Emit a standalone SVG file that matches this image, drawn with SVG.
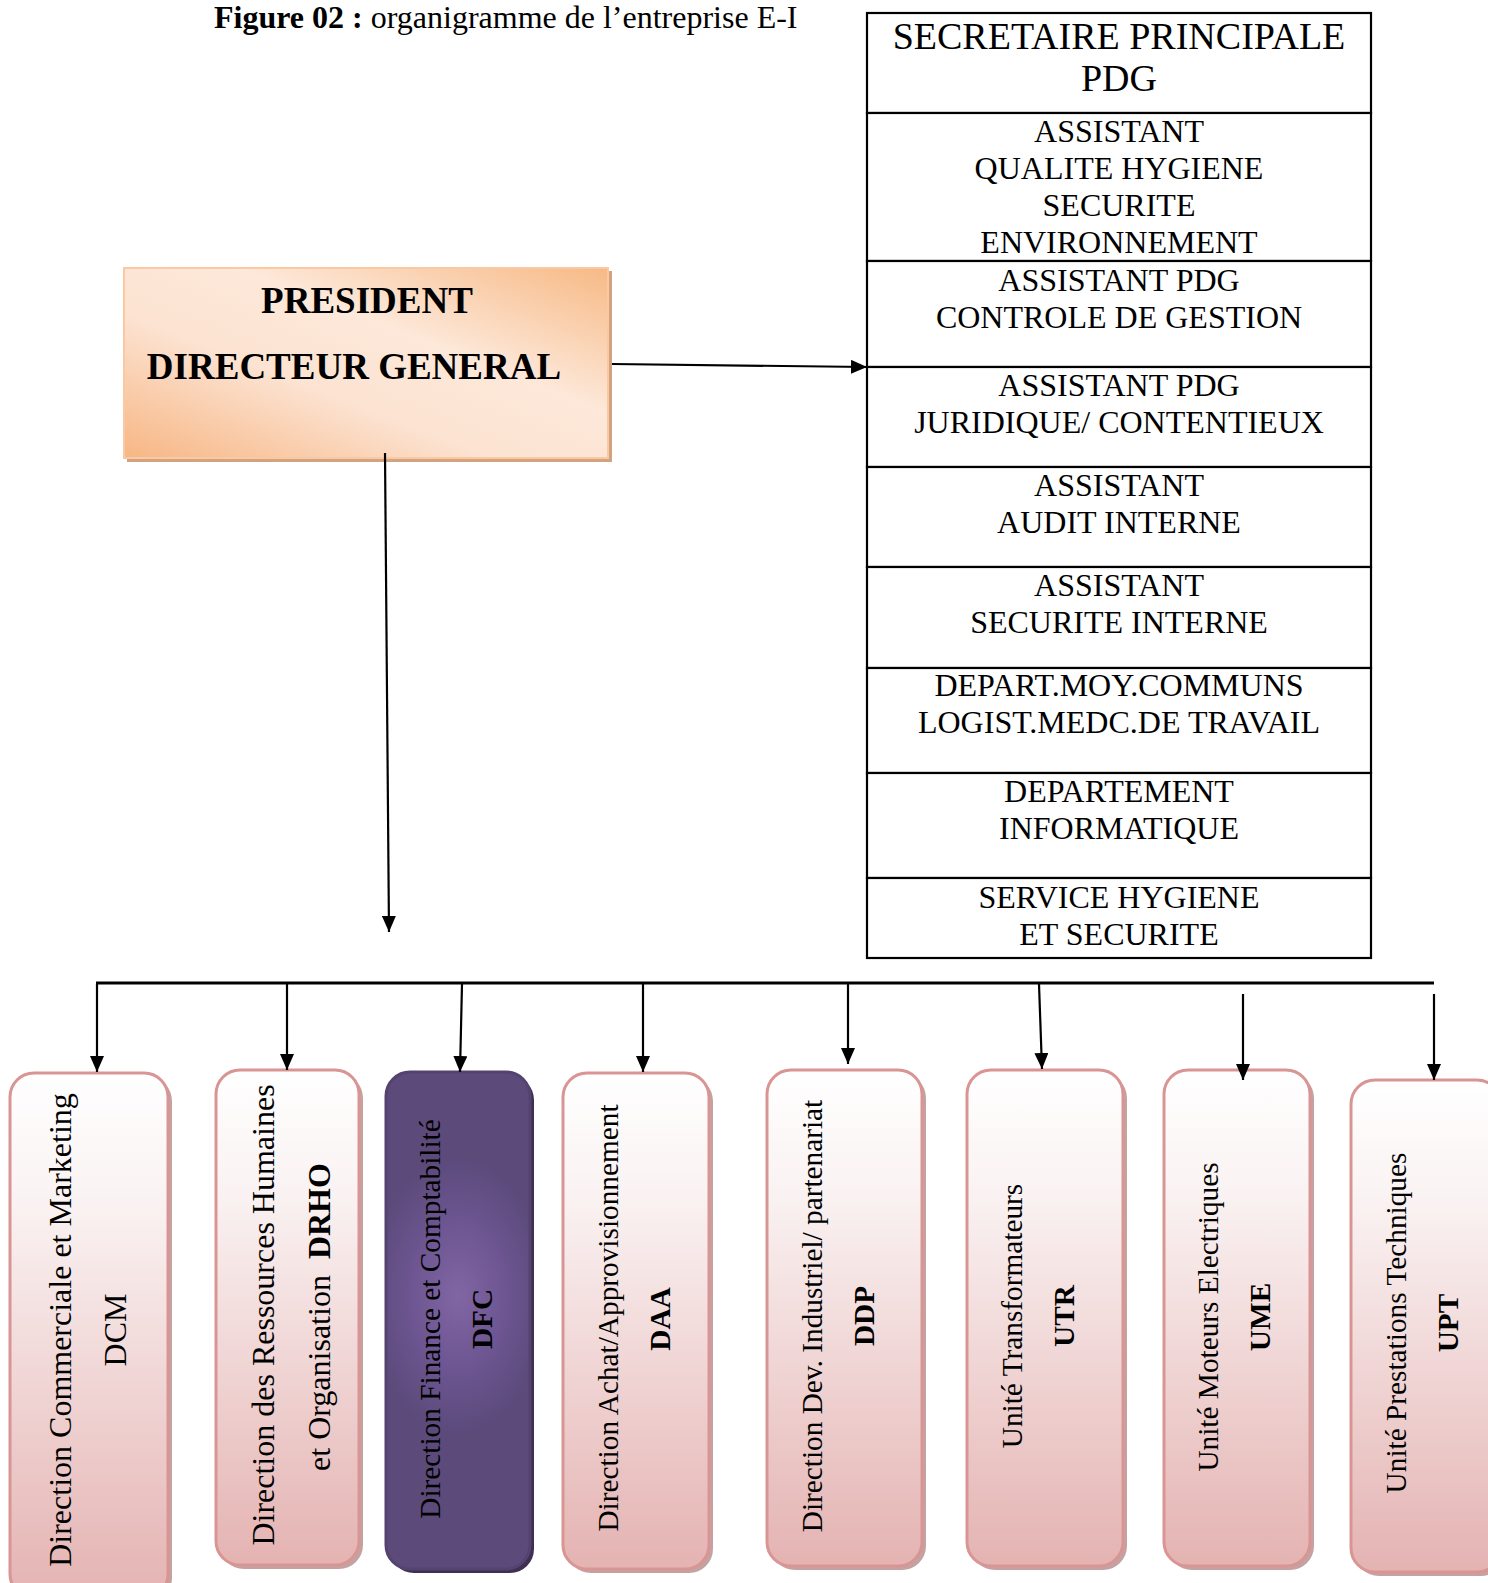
<svg xmlns="http://www.w3.org/2000/svg" width="1488" height="1583" viewBox="0 0 1488 1583">
<style>
text{font-family:"Liberation Serif","Times New Roman",serif;fill:#000}
.title{font-size:32px}
.pdg{font-size:37px;font-weight:bold}
.col rect{fill:#fff;stroke:#000;stroke-width:2.2}
.col text{font-size:32px;text-anchor:middle}
.col .big{font-size:38px}
.conn line{stroke:#000;stroke-width:2.2;fill:none}
.conn .bus{stroke-width:3}
.arr{marker-end:url(#ah)}
.pink{fill:url(#pinkGrad);stroke:#D99594;stroke-width:3}
.shadow{fill:#C4A2A2}
.pshadow{fill:#3E3052}
.purple{fill:url(#purpleGrad);stroke:#54436F;stroke-width:3}
.v{font-size:29.3px;text-anchor:middle}
.v32{font-size:32px;text-anchor:middle}
.b{font-weight:bold}
</style>
<defs>
<linearGradient id="pdgGrad" x1="0" y1="1" x2="1" y2="0">
<stop offset="0" stop-color="#F7B684"/>
<stop offset="0.38" stop-color="#FCE3D2"/>
<stop offset="0.62" stop-color="#FDE8D9"/>
<stop offset="1" stop-color="#F7B985"/>
</linearGradient>
<linearGradient id="pinkGrad" x1="0" y1="0" x2="0" y2="1">
<stop offset="0" stop-color="#FFFFFF"/>
<stop offset="0.25" stop-color="#FAF2F2"/>
<stop offset="1" stop-color="#E4B3B2"/>
</linearGradient>
<radialGradient id="purpleGrad" cx="0.5" cy="0.45" r="0.62" gradientTransform="translate(0.5 0.45) scale(1 0.45) translate(-0.5 -0.45)">
<stop offset="0" stop-color="#8166A4"/>
<stop offset="0.55" stop-color="#6C5590"/>
<stop offset="1" stop-color="#5C4A7B"/>
</radialGradient>
<marker id="ah" viewBox="0 0 16 14" markerWidth="16" markerHeight="14" refX="16" refY="7" orient="auto" markerUnits="userSpaceOnUse">
<path d="M0,0 L16,7 L0,14 z" fill="#000"/>
</marker>
</defs>

<text class="title" x="214" y="28"><tspan font-weight="bold">Figure 02 :</tspan> organigramme de l’entreprise E-I</text>

<g id="pdg">
<rect x="127" y="271" width="485" height="191" fill="#D3A27E"/>
<rect x="124" y="268" width="484" height="190" fill="url(#pdgGrad)" stroke="#F8C9A2" stroke-width="2"/>
<text class="pdg" x="367" y="313" text-anchor="middle">PRESIDENT</text>
<text class="pdg" x="354" y="379" text-anchor="middle">DIRECTEUR GENERAL</text>
</g>

<g class="col">
<g id="sec-pdg"><rect x="867" y="13" width="504" height="100"/>
<text class="big" x="1119" y="49">SECRETAIRE PRINCIPALE</text>
<text class="big" x="1119" y="91">PDG</text></g>
<g id="qhse"><rect x="867" y="113" width="504" height="148"/>
<text x="1119" y="142">ASSISTANT</text>
<text x="1119" y="179">QUALITE HYGIENE</text>
<text x="1119" y="216">SECURITE</text>
<text x="1119" y="253">ENVIRONNEMENT</text></g>
<g id="cdg"><rect x="867" y="261" width="504" height="106"/>
<text x="1119" y="291">ASSISTANT PDG</text>
<text x="1119" y="328">CONTROLE DE GESTION</text></g>
<g id="jur"><rect x="867" y="367" width="504" height="100"/>
<text x="1119" y="396">ASSISTANT PDG</text>
<text x="1119" y="433">JURIDIQUE/ CONTENTIEUX</text></g>
<g id="audit"><rect x="867" y="467" width="504" height="100"/>
<text x="1119" y="496">ASSISTANT</text>
<text x="1119" y="533">AUDIT INTERNE</text></g>
<g id="secint"><rect x="867" y="567" width="504" height="101"/>
<text x="1119" y="596">ASSISTANT</text>
<text x="1119" y="633">SECURITE INTERNE</text></g>
<g id="moy"><rect x="867" y="668" width="504" height="105"/>
<text x="1119" y="696">DEPART.MOY.COMMUNS</text>
<text x="1119" y="733">LOGIST.MEDC.DE TRAVAIL</text></g>
<g id="info"><rect x="867" y="773" width="504" height="105"/>
<text x="1119" y="802">DEPARTEMENT</text>
<text x="1119" y="839">INFORMATIQUE</text></g>
<g id="hyg"><rect x="867" y="878" width="504" height="80"/>
<text x="1119" y="908">SERVICE HYGIENE</text>
<text x="1119" y="945">ET SECURITE</text></g>
</g>

<g id="dcm">
<rect class="shadow" x="14" y="1077" width="158" height="525" rx="24"/>
<rect class="pink" x="10" y="1073" width="158" height="525" rx="24"/>
<text class="v32" transform="translate(71 1330) rotate(-90)">Direction Commerciale et Marketing</text>
<text class="v32" transform="translate(126 1330) rotate(-90)">DCM</text>
</g>
<g id="drho">
<rect class="shadow" x="220" y="1074" width="143" height="495" rx="24"/>
<rect class="pink" x="216" y="1070" width="143" height="495" rx="24"/>
<text class="v32" transform="translate(274 1315) rotate(-90)">Direction des Ressources Humaines</text>
<text class="v32" transform="translate(330 1317) rotate(-90)">et Organisation&#160; <tspan class="b">DRHO</tspan></text>
</g>
<g id="dfc">
<rect class="pshadow" x="390" y="1076" width="144" height="497" rx="24"/>
<rect class="purple" x="386" y="1072" width="144" height="497" rx="24"/>
<text class="v" transform="translate(440 1319) rotate(-90)">Direction Finance et Comptabilité</text>
<text class="v b" transform="translate(492 1319) rotate(-90)">DFC</text>
</g>
<g id="daa">
<rect class="shadow" x="567" y="1077" width="146" height="496" rx="24"/>
<rect class="pink" x="563" y="1073" width="146" height="496" rx="24"/>
<text class="v" transform="translate(618 1318) rotate(-90)">Direction Achat/Approvisionnement</text>
<text class="v b" transform="translate(670 1319) rotate(-90)">DAA</text>
</g>
<g id="ddp">
<rect class="shadow" x="771" y="1074" width="155" height="496" rx="24"/>
<rect class="pink" x="767" y="1070" width="155" height="496" rx="24"/>
<text class="v" transform="translate(822 1316) rotate(-90)">Direction Dev. Industriel/ partenariat</text>
<text class="v b" transform="translate(874 1316) rotate(-90)">DDP</text>
</g>
<g id="utr">
<rect class="shadow" x="971" y="1074" width="156" height="496" rx="24"/>
<rect class="pink" x="967" y="1070" width="156" height="496" rx="24"/>
<text class="v" transform="translate(1022 1316) rotate(-90)">Unité Transformateurs</text>
<text class="v b" transform="translate(1074 1316) rotate(-90)">UTR</text>
</g>
<g id="ume">
<rect class="shadow" x="1168" y="1074" width="146" height="496" rx="24"/>
<rect class="pink" x="1164" y="1070" width="146" height="496" rx="24"/>
<text class="v" transform="translate(1218 1317) rotate(-90)">Unité Moteurs Electriques</text>
<text class="v b" transform="translate(1270 1317) rotate(-90)">UME</text>
</g>
<g id="upt">
<rect class="shadow" x="1355" y="1084" width="150" height="492" rx="24"/>
<rect class="pink" x="1351" y="1080" width="150" height="492" rx="24"/>
<text class="v" transform="translate(1406 1323) rotate(-90)">Unité Prestations Techniques</text>
<text class="v b" transform="translate(1458 1323) rotate(-90)">UPT</text>
</g>

<g class="conn">
<line class="arr" x1="612" y1="364" x2="867" y2="367"/>
<line class="arr" x1="385" y1="453" x2="389" y2="932"/>
<line class="bus" x1="96" y1="983" x2="1434" y2="983"/>
<line class="arr" x1="97" y1="984" x2="97" y2="1072"/>
<line class="arr" x1="287" y1="984" x2="287" y2="1070"/>
<line class="arr" x1="462" y1="984" x2="460" y2="1072"/>
<line class="arr" x1="643" y1="984" x2="643" y2="1072"/>
<line class="arr" x1="848" y1="984" x2="848" y2="1064"/>
<line class="arr" x1="1039" y1="984" x2="1042" y2="1069"/>
<line class="arr" x1="1243" y1="994" x2="1243" y2="1080"/>
<line class="arr" x1="1434" y1="994" x2="1434" y2="1080"/>
</g>
</svg>
